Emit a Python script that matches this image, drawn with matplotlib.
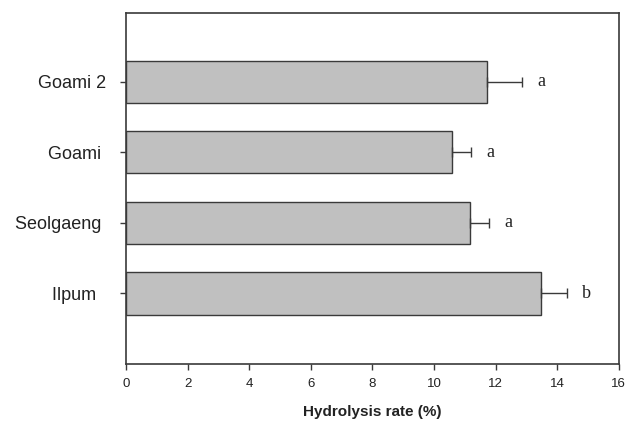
import matplotlib
matplotlib.use("Agg")
import matplotlib.pyplot as plt

# data (bottom to top)
varieties = ["Ilpum  ", "Seolgaeng ", "Goami ", "Goami 2"]
rates = [13.46, 11.18, 10.58, 11.71]
errors = [0.86, 0.60, 0.63, 1.15]
letters = ["b", "a", "a", "a"]

plt.rcParams['font.family'] = ['Liberation Sans', 'DejaVu Sans']

fig = plt.figure(figsize=(6.27, 4.25), dpi=100)
ax = fig.add_axes([0.201, 0.1435, 0.786, 0.827])

edge = '#3a3a3a'
pos = list(range(len(varieties)))
ax.barh(pos, rates, height=0.6, color='#c0c0c0', edgecolor=edge, linewidth=1.0)
ax.errorbar(rates, pos, xerr=[[0] * len(errors), errors], fmt='none',
            ecolor=edge, elinewidth=1.0, capsize=3.5, capthick=1.0)

# significance letters
for p, r, e, l in zip(pos, rates, errors, letters):
    ax.annotate(l, (r + e, p), xytext=(11, 0), textcoords='offset points',
                ha='left', va='center', fontsize=13, color='#222222',
                family=['Liberation Serif', 'DejaVu Serif'])

ax.set_xlim(0, 16)
ax.set_ylim(-1, 3.98)
ax.set_xticks(range(0, 17, 2))
ax.set_yticks(pos)
ax.set_yticklabels(varieties, fontsize=13, color='#222222')
ax.tick_params(axis='x', labelsize=9.5, direction='out', length=4, width=1,
               color=edge, pad=6, labelcolor='#222222')
ax.tick_params(axis='y', direction='out', length=4, width=1, color=edge, pad=10)

for s in ax.spines.values():
    s.set_color(edge)
    s.set_linewidth(1.2)

ax.set_xlabel("Hydrolysis rate (%)", fontsize=11, fontweight='bold',
              color='#222222', labelpad=11)

fig.savefig("out.png", dpi=100)
